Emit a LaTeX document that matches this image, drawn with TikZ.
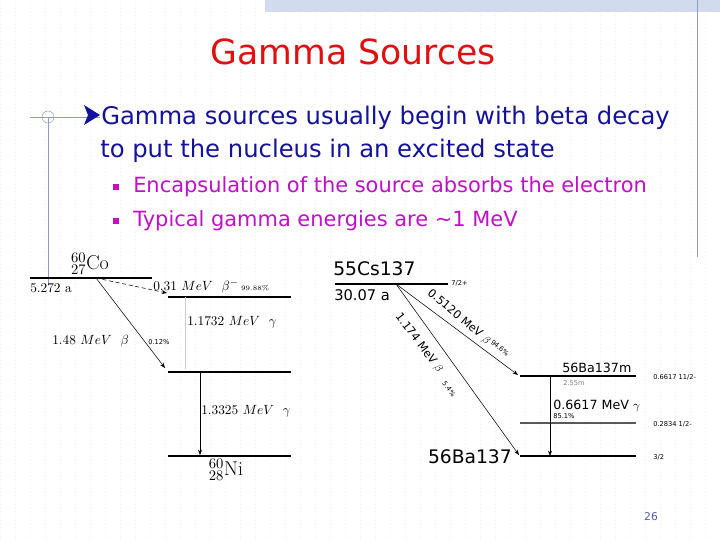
\documentclass[tikz,border=0pt]{standalone}
\usepackage{fontspec}
\setmainfont{DejaVu Sans}
\newfontfamily\lmfont{Latin Modern Roman}
\usepackage{amsmath}
\usetikzlibrary{arrows.meta,positioning,patterns}
\definecolor{titlered}{HTML}{E01010}
\definecolor{navy}{HTML}{12129A}
\definecolor{subpink}{HTML}{C010C8}
\definecolor{deco}{HTML}{8E9CC8}
\definecolor{barblue}{HTML}{D2DAEE}
\begin{document}
\begin{tikzpicture}[x=0.75pt, y=-0.75pt, >=Stealth,
    level/.style={line width=0.8pt},
    thicklevel/.style={line width=1.6pt},
    decay/.style={->, thin, >={Stealth[length=4pt]}},
    lbl/.style={inner sep=0pt, font=\lmfont\fontsize{10}{10}\selectfont},
    tiny/.style={inner sep=0pt, font=\fontsize{5}{5}\selectfont}]
    \useasboundingbox (0,0) rectangle (720,540);
    \fill[white] (0,0) rectangle (720,540);
    % faint background grid
    \draw[gray!12, dotted] (0,0) grid[step=15] (720,540);
    % slide decorations
    \fill[barblue] (265,0) rectangle (720,12);
    \draw[deco] (697,0) -- (697,257);
    \draw[deco] (30,117) -- (100,117);
    \draw[deco] (48,117) circle[radius=6];
    \draw[deco] (48,117) -- (48,285);
    % title and bullets
    \node[titlered, font=\fontsize{26}{26}\selectfont] (title) at (353,52) {Gamma Sources};
    \fill[navy] (84,105) -- (100,115) -- (84,125) -- (88,115) -- cycle;
    \node[navy, anchor=base west, inner sep=0pt, font=\fontsize{18.2}{18.2}\selectfont] (main1) at (101,124)
        {Gamma sources usually begin with beta decay};
    \node[navy, anchor=base west, inner sep=0pt, font=\fontsize{18.2}{18.2}\selectfont] (main2) at (100,157)
        {to put the nucleus in an excited state};
    \foreach \y/\t in {192/Encapsulation of the source absorbs the electron,
                       226/Typical gamma energies are \textasciitilde1 MeV} {
        \fill[subpink] (113,\y-8) rectangle +(6,6);
        \node[subpink, anchor=base west, inner sep=0pt, font=\fontsize{15.7}{15.7}\selectfont] at (133,\y) {\t};
    }
    % Co-60 scheme
    \node[font=\lmfont\fontsize{15}{15}\selectfont, inner sep=0pt] (co) at (90,264) {${}^{60}_{27}$Co};
    \draw[level] (30,278) coordinate (co-l) -- (152,278) coordinate (co-r);
    \coordinate (co-src) at (96,278);
    \node[lbl, anchor=north west] (co-hl) at (30,283) {5.272 a};
    \draw[thicklevel] (168,297) coordinate (ni2-l) -- (291,297) coordinate (ni2-r);
    \draw[level] (168,372) coordinate (ni1-l) -- (291,372) coordinate (ni1-r);
    \draw[level] (168,456) coordinate (ni0-l) -- (291,456) coordinate (ni0-r);
    \coordinate (b1-end) at (167,293);
    \coordinate (b2-end) at (165,368);
    \draw[decay, densely dashed] (co-src) -- (b1-end);
    \draw[decay] (co-src) -- (b2-end);
    \node[lbl, anchor=base west] at (153,290) {0.31 $MeV$ \ $\beta^-$\,\tiny 99.88\%};
    \node[lbl, anchor=base west] at (52,344) {1.48 $MeV$ \ $\beta$};
    \node[tiny, anchor=base west] at (148,344) {0.12\%};
    \draw[gray!40] (185,297) -- (185,369);
    \node[lbl, anchor=base west] at (187,325) {1.1732 $MeV$ \ $\gamma$};
    \draw[decay] (200,372) -- (200,455);
    \node[lbl, anchor=base west] at (201,414) {1.3325 $MeV$ \ $\gamma$};
    \node[font=\lmfont\fontsize{15}{15}\selectfont, inner sep=0pt] (ni) at (226,470) {${}^{60}_{28}$Ni};
    % Cs-137 scheme
    \node[font=\fontsize{14}{14}\selectfont, inner sep=0pt, anchor=base west] (cs) at (333,275) {55Cs137};
    \draw[thicklevel] (335,284) coordinate (cs-l) -- (448,284) coordinate (cs-r);
    \coordinate (cs-src) at (396,284);
    \node[tiny, anchor=west] at (451,283) {7/2+};
    \node[font=\fontsize{11}{11}\selectfont, inner sep=0pt, anchor=base west] at (334,300) {30.07 a};
    \draw[thicklevel] (520,376) coordinate (bam-l) -- (636,376) coordinate (bam-r);
    \draw[level, gray!70!black] (520,423) coordinate (bax-l) -- (636,423) coordinate (bax-r);
    \draw[level] (520,456) coordinate (ba-l) -- (636,456) coordinate (ba-r);
    \coordinate (cb1-end) at (518,375);
    \coordinate (cb2-end) at (519,455);
    \draw[decay] (cs-src) -- (cb1-end);
    \draw[decay] (cs-src) -- (cb2-end);
    \node[font=\fontsize{8.5}{8.5}\selectfont, inner sep=0pt, rotate=-40] at (459,317) {0.5120 MeV $\beta$};
    \node[tiny, rotate=-40] at (500,348) {94.6\%};
    \node[font=\fontsize{8.5}{8.5}\selectfont, inner sep=0pt, rotate=-53] at (419,343) {1.174 MeV $\beta$};
    \node[tiny, rotate=-53] at (449,389) {5.4\%};
    \node[font=\fontsize{9.5}{9.5}\selectfont, inner sep=0pt, anchor=base west] at (562,372) {56Ba137m};
    \node[tiny, gray, anchor=west] at (563,383) {2.55m};
    \node[tiny, anchor=west] at (653,377) {0.6617 11/2-};
    \node[tiny, anchor=west] at (653,424) {0.2834 1/2-};
    \node[tiny, anchor=west] at (653,457) {3/2};
    \draw[decay] (550,376) -- (550,456);
    \node[font=\fontsize{9.5}{9.5}\selectfont, inner sep=0pt, anchor=base west] at (553,409) {0.6617 MeV $\gamma$};
    \node[tiny, anchor=west] at (553,416) {85.1\%};
    \node[font=\fontsize{14}{14}\selectfont, inner sep=0pt, anchor=base east] (ba) at (512,463) {56Ba137};
    % page number
    \node[font=\fontsize{8}{8}\selectfont, text=navy!70] (page) at (651,517) {26};
\end{tikzpicture}
\end{document}
